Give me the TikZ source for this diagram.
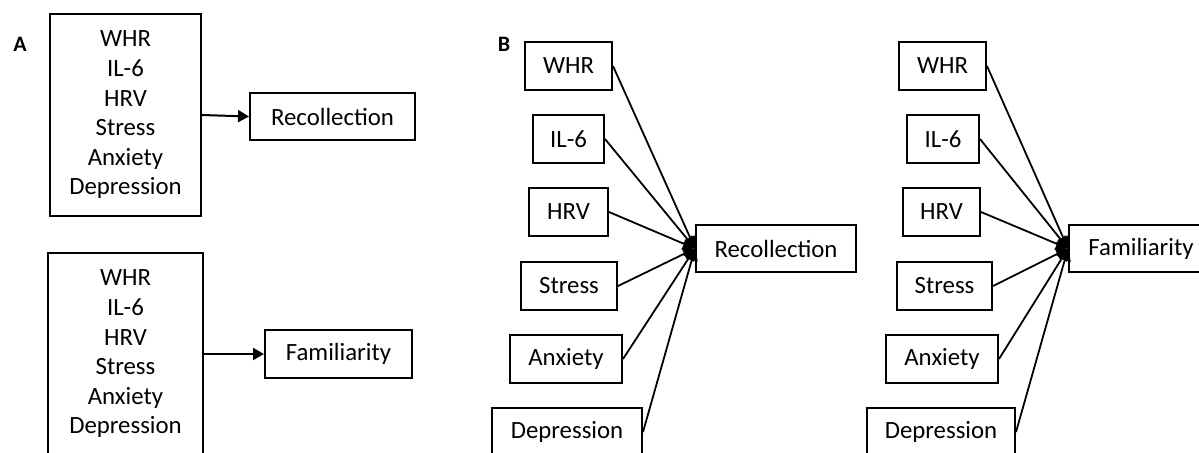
\documentclass[tikz,border=0pt]{standalone}
\usepackage{fontspec}
\setmainfont{Carlito}
\usetikzlibrary{arrows.meta}
\newcommand{\px}{0.5pt}
\tikzset{
  box/.style={draw, line width=1pt, inner sep=0pt, minimum height=48*\px,
    font=\fontsize{12.4}{14.8}\selectfont},
  listbox/.style={box, align=center},
  link/.style={line width=1pt, -{Triangle[length=5.5pt,width=6pt]}},
  fan/.style={line width=0.9pt, -{Triangle[length=6pt,width=6pt]}},
  panel/.style={font=\fontsize{11}{13}\selectfont\bfseries}
}
\begin{document}
\begin{tikzpicture}[x=0.5pt, y=-0.5pt]
\clip (0,0) rectangle (1199,452);
\fill[white] (0,0) rectangle (1199,452);

% ---- Panel A: combined predictors ----
\node[panel] (labA) at (20,44) {A};
\node[listbox, minimum width=151*\px, minimum height=202*\px] (predR) at (125.5,115)
  {WHR\\IL-6\\HRV\\Stress\\Anxiety\\Depression};
\node[box, minimum width=165*\px, minimum height=47*\px] (recA) at (332.5,116.5) {Recollection};
\draw[link] (predR.east) -- (recA.west);

\node[listbox, minimum width=155*\px, minimum height=202*\px] (predF) at (125.5,354)
  {WHR\\IL-6\\HRV\\Stress\\Anxiety\\Depression};
\node[box, minimum width=147*\px] (famA) at (338.5,354) {Familiarity};
\draw[link] (predF.east) -- (famA.west);

% ---- Panel B: separate predictors ----
\node[panel] (labB) at (504,44) {B};

\node[box, minimum width=160*\px, minimum height=47*\px] (recB) at (776,248.5) {Recollection};
\node[box, minimum width=87*\px]  (r1) at (568.5,66)  {WHR};
\node[box, minimum width=71*\px]  (r2) at (568.5,139) {IL-6};
\node[box, minimum width=79*\px]  (r3) at (568.5,212) {HRV};
\node[box, minimum width=96*\px]  (r4) at (569,286)   {Stress};
\node[box, minimum width=112*\px] (r5) at (566,359)   {Anxiety};
\node[box, minimum width=150*\px] (r6) at (567,432)   {Depression};
\foreach \n in {r1,r2,r3,r4,r5,r6}
  \draw[fan] (\n.east) -- (recB.west);

\node[box, minimum width=144*\px, minimum height=47*\px] (famB) at (1141,248.5) {Familiarity};
\node[box, minimum width=87*\px]  (f1) at (942.5,66)  {WHR};
\node[box, minimum width=72*\px]  (f2) at (943,139)   {IL-6};
\node[box, minimum width=77*\px]  (f3) at (941.5,212) {HRV};
\node[box, minimum width=95*\px]  (f4) at (944.5,286) {Stress};
\node[box, minimum width=112*\px] (f5) at (942,359)   {Anxiety};
\node[box, minimum width=148*\px] (f6) at (941,432)   {Depression};
\foreach \n in {f1,f2,f3,f4,f5,f6}
  \draw[fan] (\n.east) -- (famB.west);
\end{tikzpicture}
\end{document}
